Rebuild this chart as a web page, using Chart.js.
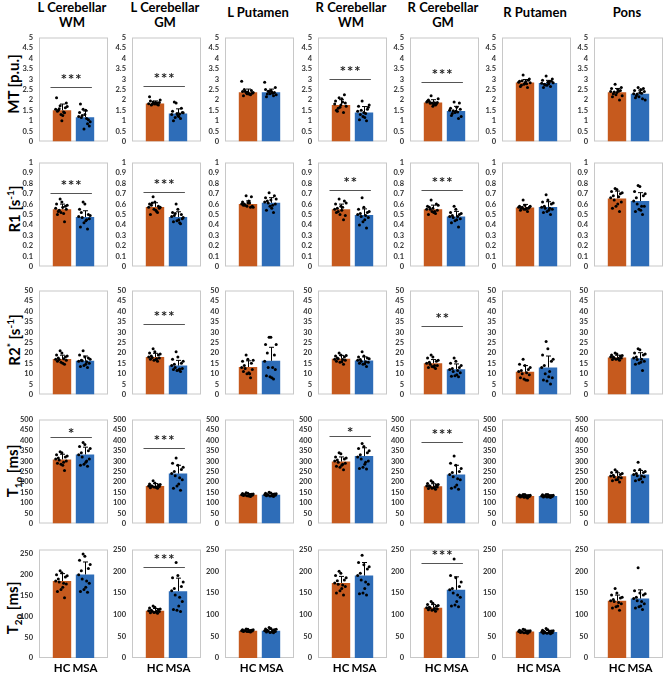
<!DOCTYPE html>
<html>
<head>
<meta charset="utf-8">
<script src="https://cdn.jsdelivr.net/npm/chart.js@4.4.1/dist/chart.umd.min.js"></script>
<style>
  body { margin: 0; background: #fff; width: 669px; height: 673px; position: relative; overflow: hidden; }
  canvas { position: absolute; }
  .title { position: absolute; text-align: center; font: bold 13px/15px Lato, sans-serif; color: #000; white-space: nowrap; transform: translateX(-50%); }
  .rowlab { position: absolute; font: bold 15px Lato, sans-serif; color: #000; white-space: nowrap; transform: translate(-50%, -50%) rotate(-90deg); }
  .rowlab sup, .rowlab sub { font-size: 10px; }
</style>
</head>
<body>
<script>
// regions (columns) and groups
const regions = ["L Cerebellar\nWM", "L Cerebellar\nGM", "L Putamen", "R Cerebellar\nWM", "R Cerebellar\nGM", "R Putamen", "Pons"];
const groups = ["HC", "MSA"];

// ---- MT [p.u.] ----
const mtHcMean = [1.50, 1.83, 2.37, 1.76, 1.88, 2.84, 2.37];
const mtMsaMean = [1.17, 1.35, 2.37, 1.40, 1.47, 2.81, 2.30];
const mtHcSd = [0.30, 0.12, 0.15, 0.25, 0.13, 0.14, 0.18];
const mtMsaSd = [0.30, 0.22, 0.15, 0.28, 0.22, 0.13, 0.17];
const mtHcPts = [
  [1.55,1.72,1.38,2.10,1.30,1.62,1.45,1.00,1.85,1.50,1.25,1.68,1.58,1.42],
  [1.82,1.90,1.78,2.15,1.85,1.76,1.95,1.80,1.88,1.75,1.84,2.00,1.79,1.86],
  [2.90,2.35,2.25,2.40,2.30,2.45,2.20,2.38,2.32,2.50,2.28,2.36,2.42,2.30],
  [1.80,2.10,1.40,1.95,1.65,2.25,1.50,1.75,1.85,1.45,2.05,1.70,1.60,1.90],
  [1.90,2.20,1.75,1.95,1.85,1.80,2.00,1.70,1.88,1.92,1.78,2.05,1.84,1.86],
  [2.85,3.20,2.60,2.90,2.75,2.95,2.65,2.80,3.00,2.70,2.88,2.82,2.92,2.78],
  [2.40,2.75,2.00,2.55,2.25,2.45,2.15,2.35,2.60,2.30,2.50,2.20,2.38,2.42]
];
const mtMsaPts = [
  [1.20,1.55,0.85,1.40,0.60,1.05,1.80,1.30,0.75,1.15,1.50,0.95,1.25,1.10],
  [1.30,1.85,1.10,1.45,1.35,1.60,1.00,1.25,1.40,1.90,1.20,1.38,1.15,1.32],
  [2.85,2.40,2.20,2.50,2.30,2.35,2.15,2.45,2.60,2.28,2.38,2.25,2.42,2.32],
  [1.45,1.95,1.00,1.70,1.20,1.55,1.05,1.40,1.65,1.30,1.15,1.75,1.50,1.35],
  [1.50,1.90,1.10,1.60,1.40,1.85,1.25,1.45,1.55,1.35,1.65,1.20,1.48,1.42],
  [2.80,3.15,2.65,2.95,2.70,2.90,2.60,2.85,3.00,2.75,2.78,2.82,2.72,2.88],
  [2.30,2.60,2.05,2.45,2.15,2.55,2.10,2.35,2.40,2.20,2.50,2.00,2.28,2.32]
];
const mtSig = ["***", "***", null, "***", "***", null, null];
const mtSigLevel = [2.6, 2.66, null, 3.0, 2.85, null, null];

// ---- R1 [s-1] ----
const r1HcMean = [0.55, 0.573, 0.60, 0.55, 0.55, 0.567, 0.655];
const r1MsaMean = [0.476, 0.476, 0.612, 0.494, 0.48, 0.573, 0.63];
const r1HcSd = [0.05, 0.04, 0.03, 0.05, 0.04, 0.03, 0.07];
const r1MsaSd = [0.06, 0.05, 0.05, 0.06, 0.05, 0.05, 0.08];
const r1HcPts = [
  [0.56,0.65,0.43,0.60,0.52,0.58,0.50,0.62,0.55,0.53,0.57,0.59,0.54,0.51],
  [0.57,0.67,0.52,0.60,0.55,0.58,0.50,0.62,0.56,0.59,0.54,0.57,0.61,0.53],
  [0.60,0.68,0.57,0.62,0.58,0.67,0.59,0.61,0.58,0.60,0.63,0.57,0.59,0.61],
  [0.55,0.65,0.45,0.60,0.50,0.63,0.52,0.58,0.49,0.56,0.54,0.61,0.53,0.57],
  [0.55,0.64,0.51,0.58,0.53,0.60,0.50,0.56,0.54,0.57,0.52,0.59,0.55,0.53],
  [0.57,0.64,0.53,0.58,0.55,0.56,0.54,0.59,0.57,0.56,0.55,0.58,0.57,0.56],
  [0.66,0.75,0.53,0.72,0.58,0.70,0.56,0.74,0.62,0.68,0.60,0.71,0.64,0.67]
];
const r1MsaPts = [
  [0.48,0.62,0.36,0.55,0.42,0.50,0.38,0.60,0.46,0.52,0.44,0.49,0.47,0.45],
  [0.48,0.60,0.41,0.52,0.44,0.50,0.43,0.55,0.46,0.49,0.45,0.47,0.51,0.42],
  [0.62,0.71,0.52,0.66,0.58,0.68,0.54,0.64,0.60,0.63,0.56,0.65,0.61,0.59],
  [0.50,0.66,0.37,0.55,0.43,0.52,0.40,0.57,0.47,0.51,0.45,0.53,0.48,0.49],
  [0.48,0.58,0.38,0.52,0.44,0.50,0.42,0.55,0.46,0.49,0.45,0.51,0.47,0.48],
  [0.57,0.69,0.50,0.62,0.53,0.60,0.52,0.64,0.55,0.58,0.54,0.61,0.56,0.56],
  [0.63,0.78,0.50,0.72,0.55,0.68,0.53,0.77,0.58,0.66,0.54,0.70,0.60,0.58]
];
const r1Sig = ["***", "***", null, "**", "***", null, null];
const r1SigLevel = [0.71, 0.72, null, 0.735, 0.74, null, null];

// ---- R2* [s-1] ----
const r2sHcMean = [17.1, 18.0, 13.2, 17.2, 15.0, 10.9, 17.8];
const r2sMsaMean = [16.2, 13.9, 16.2, 16.3, 12.1, 13.0, 17.4];
const r2sHcSd = [1.8, 1.8, 3.0, 1.6, 1.8, 3.0, 1.1];
const r2sMsaSd = [2.3, 2.5, 6.5, 1.8, 2.6, 5.5, 2.7];
const r2sHcPts = [
  [17,21,14.5,19,15.5,18,16,20,16.5,17.5,15,18.5,16.8,17.2],
  [18,22,16,20,16.5,19,17,20.5,17.5,18.5,16.8,19.5,17.8,17.2],
  [13,19,8,16,10,15,11,17,12,14,10.5,16.5,12.5,10],
  [17,20,14.5,18.5,15.5,18,16,19,16.5,17.5,15.8,18.8,17.2,16.8],
  [15,19,12.5,17.5,13.5,16,13,18,14,15.5,13.2,16.5,14.5,14],
  [11,17,6.8,14.5,7.5,12,8,14,9.5,11.5,7,13,10,10.5],
  [18,20,16.5,19,17,18.5,16.8,19.5,17.5,18,17.2,18.8,17.6,17.4]
];
const r2sMsaPts = [
  [16,21,13,19,14,17.5,13.5,18,15,16.5,14.5,17,16.2,15.8],
  [14,20.5,11,17,11.5,15,12,18,12.5,14.5,11.8,16,13,12.2],
  [16,27.5,7.5,24,8.5,19,9,27.5,12,20,8,24,13,13],
  [16.5,20.5,13.5,18,14.5,17.5,15,18.5,15.5,16.8,14.8,17.2,16,15.8],
  [12,17.5,8.5,15,9,13,8.8,16,10.5,12.5,9.5,14,11,11.5],
  [13,25.5,5,19,6.5,16,7,22,8,14,8.5,17,10,11],
  [17.5,22,11.5,20,15,19,14.5,21.5,16,18,15.5,19.5,16.8,17]
];
const r2sSig = [null, "***", null, null, "**", null, null];
const r2sSigLevel = [null, 34, null, null, 33, null, null];

// ---- T1rho [ms] ----
const t1pHcMean = [308, 180, 138.5, 298, 179, 132.5, 227];
const t1pMsaMean = [332, 240, 138.5, 324, 235, 132.5, 235];
const t1pHcSd = [25, 12, 5, 22, 12, 4, 17];
const t1pMsaSd = [35, 40, 6, 40, 45, 5, 20];
const t1pHcPts = [
  [310,345,255,330,285,320,290,340,300,315,280,325,305,295],
  [180,205,170,190,175,185,172,195,178,182,174,188,179,176],
  [138,148,130,144,133,141,135,146,136,139,132,142,137,138],
  [300,340,258,320,270,310,275,335,290,305,280,315,295,285],
  [180,205,165,192,170,185,168,198,175,182,172,188,178,176],
  [132,140,122,137,126,135,128,139,130,134,127,136,131,133],
  [228,258,200,245,210,235,205,250,220,232,212,240,225,222]
];
const t1pMsaPts = [
  [330,390,275,370,285,350,280,380,310,340,295,360,320,300],
  [240,315,160,290,180,260,170,280,210,250,190,270,230,220],
  [138,150,130,145,132,142,134,147,136,140,133,143,137,139],
  [320,385,262,360,270,340,265,370,300,330,285,350,310,295],
  [235,325,165,290,175,250,170,280,210,245,185,265,225,215],
  [132,140,125,138,127,135,128,139,130,134,129,136,131,133],
  [235,295,200,255,210,245,205,260,225,240,215,250,230,228]
];
const t1pSig = ["*", "***", null, "*", "***", null, null];
const t1pSigLevel = [417, 365, null, 420, 390, null, null];

// ---- T2rho [ms] ----
const t2pHcMean = [185, 109, 63, 173, 116, 61, 132];
const t2pMsaMean = [201, 154, 63, 190, 157, 60, 137];
const t2pHcSd = [18, 5, 2, 15, 7, 3, 13];
const t2pMsaSd = [30, 30, 3, 30, 30, 3.5, 20];
const t2pHcPts = [
  [185,210,145,200,165,195,160,205,178,190,170,198,183,180],
  [109,120,103,115,105,112,104,117,107,110,106,113,108,108],
  [63,67,60,65,61,64,61,66,62,63,61,65,63,62],
  [173,200,145,190,155,180,150,195,165,178,160,185,170,168],
  [116,130,108,123,110,119,111,126,113,117,112,121,115,114],
  [61,66,57,64,58,62,59,65,60,61,59,63,60,61],
  [132,160,110,145,118,138,115,150,125,135,120,140,130,128]
];
const t2pMsaPts = [
  [200,250,158,235,165,215,160,245,180,210,170,225,190,185],
  [155,220,107,185,110,165,112,190,130,160,120,175,145,140],
  [63,70,58,67,59,65,60,68,61,64,60,66,62,62],
  [190,237,145,220,150,205,148,215,170,195,160,210,180,175],
  [157,228,118,190,122,165,120,185,140,160,130,175,150,145],
  [60,68,56,64,57,62,57,65,58,61,58,63,59,60],
  [137,208,112,155,118,145,115,150,125,140,120,148,132,130]
];
const t2pSig = [null, "***", null, null, "***", null, null];
const t2pSigLevel = [null, 209, null, null, 218, null, null];

// axis limits per metric row
const yMax = [5, 1, 50, 500, 250];
const yStep = [0.5, 0.1, 5, 50, 50];
const t2pFirstMax = 261;

const metrics = [
  { label: "MT [p.u.]", hcMean: mtHcMean, msaMean: mtMsaMean, hcSd: mtHcSd, msaSd: mtMsaSd, hcPts: mtHcPts, msaPts: mtMsaPts, sig: mtSig, sigLevel: mtSigLevel },
  { label: "R1 [s<sup>-1</sup>]", hcMean: r1HcMean, msaMean: r1MsaMean, hcSd: r1HcSd, msaSd: r1MsaSd, hcPts: r1HcPts, msaPts: r1MsaPts, sig: r1Sig, sigLevel: r1SigLevel },
  { label: "R2<sup>*</sup> [s<sup>-1</sup>]", hcMean: r2sHcMean, msaMean: r2sMsaMean, hcSd: r2sHcSd, msaSd: r2sMsaSd, hcPts: r2sHcPts, msaPts: r2sMsaPts, sig: r2sSig, sigLevel: r2sSigLevel },
  { label: "T<sub>1ρ</sub> [ms]", hcMean: t1pHcMean, msaMean: t1pMsaMean, hcSd: t1pHcSd, msaSd: t1pMsaSd, hcPts: t1pHcPts, msaPts: t1pMsaPts, sig: t1pSig, sigLevel: t1pSigLevel },
  { label: "T<sub>2ρ</sub> [ms]", hcMean: t2pHcMean, msaMean: t2pMsaMean, hcSd: t2pHcSd, msaSd: t2pMsaSd, hcPts: t2pHcPts, msaPts: t2pMsaPts, sig: t2pSig, sigLevel: t2pSigLevel }
];

// layout
const colLeft = [39, 132, 225, 318, 410, 502, 594];
const colW = 70;
const rowTop = [33, 158, 286, 415, 545];
const rowH = 113;
const rowLabelY = [84, 209, 340, 471, 608];
const ORANGE = "#C65A1E";
const BLUE = "#2E6DB8";
const tickFont = { family: "Lato", weight: "bold", size: 7.5 };

// titles
regions.forEach((name, c) => {
  const d = document.createElement("div");
  d.className = "title";
  const two = name.includes("\n");
  d.innerHTML = name.replace("\n", "<br>");
  d.style.left = (colLeft[c] + colW / 2 - 2) + "px";
  d.style.top = (two ? 0 : 5) + "px";
  document.body.appendChild(d);
});

// row labels
metrics.forEach((m, r) => {
  const d = document.createElement("div");
  d.className = "rowlab";
  d.innerHTML = m.label;
  d.style.left = "13px";
  d.style.top = rowLabelY[r] + "px";
  document.body.appendChild(d);
});

function jitter(pts, center) {
  const n = pts.length;
  return pts.map((v, i) => ({ x: center + (((i * 5) % n) / (n - 1) - 0.55) * 0.5, y: v }));
}

function decoPlugin(m, c) {
  return {
    id: "deco",
    beforeDatasetsDraw(chart) {
      const a = chart.chartArea, ctx = chart.ctx;
      ctx.save();
      ctx.strokeStyle = "#c8c8c8";
      ctx.lineWidth = 1;
      ctx.strokeRect(a.left + 0.5, a.top + 0.5, a.right - a.left - 1, a.bottom - a.top - 1);
      ctx.restore();
    },
    afterDatasetDraw(chart, args) {
      if (args.index !== 0) return;
      const xs = chart.scales.x, ys = chart.scales.y, ctx = chart.ctx;
      const means = [m.hcMean[c], m.msaMean[c]];
      const sds = [m.hcSd[c], m.msaSd[c]];
      ctx.save();
      ctx.strokeStyle = "#000";
      ctx.lineWidth = 1;
      means.forEach((mu, g) => {
        const x = Math.round(xs.getPixelForValue(g + 1)) + 0.5;
        const y0 = ys.getPixelForValue(mu);
        const y1 = ys.getPixelForValue(mu + sds[g]);
        ctx.beginPath();
        ctx.moveTo(x, y0); ctx.lineTo(x, y1);
        ctx.moveTo(x - 2.5, y1); ctx.lineTo(x + 2.5, y1);
        ctx.stroke();
      });
      ctx.restore();
    },
    afterDatasetsDraw(chart) {
      const s = m.sig[c];
      if (!s) return;
      const xs = chart.scales.x, ys = chart.scales.y, ctx = chart.ctx;
      const y = Math.round(ys.getPixelForValue(m.sigLevel[c])) + 0.5;
      ctx.save();
      ctx.strokeStyle = "#555";
      ctx.lineWidth = 1.2;
      ctx.beginPath();
      ctx.moveTo(xs.getPixelForValue(0.5), y);
      ctx.lineTo(xs.getPixelForValue(2.3), y);
      ctx.stroke();
      ctx.fillStyle = "#222";
      ctx.font = "bold 10px 'DejaVu Sans'";
      ctx.letterSpacing = "2px";
      ctx.textAlign = "center";
      ctx.textBaseline = "middle";
      ctx.fillText(s, xs.getPixelForValue(1.4) + 1, y - (s.length > 1 ? 8 : 4));
      ctx.restore();
    }
  };
}

metrics.forEach((m, r) => {
  const last = r === metrics.length - 1;
  regions.forEach((name, c) => {
    const cv = document.createElement("canvas");
    const w = 30 + colW + 3;
    const h = 6 + rowH + (last ? 22 : 6);
    cv.width = w; cv.height = h;
    cv.style.left = (colLeft[c] - 30) + "px";
    cv.style.top = (rowTop[r] - 6) + "px";
    cv.style.width = w + "px"; cv.style.height = h + "px";
    document.body.appendChild(cv);

    const max = (last && c === 0) ? t2pFirstMax : yMax[r];
    new Chart(cv, {
      type: "bar",
      data: {
        datasets: [
          {
            type: "bar",
            data: [{ x: 1, y: m.hcMean[c] }, { x: 2, y: m.msaMean[c] }],
            backgroundColor: [ORANGE, BLUE],
            barPercentage: 0.8,
            categoryPercentage: 1,
            order: 2
          },
          {
            type: "scatter",
            data: jitter(m.hcPts[c], 1).concat(jitter(m.msaPts[c], 2)),
            pointRadius: 1.5,
            pointBackgroundColor: "#000",
            pointBorderWidth: 0,
            order: 1
          }
        ]
      },
      options: {
        responsive: false,
        animation: false,
        events: [],
        layout: { padding: { top: 6, right: 3, bottom: last ? 0 : 6, left: 0 } },
        plugins: { legend: { display: false }, tooltip: { enabled: false } },
        scales: {
          x: {
            type: "linear", min: 0, max: 3, offset: false,
            afterBuildTicks: s => { s.ticks = [{ value: 1 }, { value: 2 }]; },
            afterFit: s => { s.height = last ? 22 : 0; },
            grid: { display: false, offset: false, drawTicks: false },
            border: { display: false },
            ticks: {
              display: last, autoSkip: false, maxRotation: 0, minRotation: 0, padding: 3,
              color: "#000", font: { family: "Lato", weight: "bold", size: 11.5 },
              callback: v => groups[v - 1]
            }
          },
          y: {
            min: 0, max: max,
            afterFit: s => { s.width = 30; },
            grid: { display: false, drawTicks: false },
            border: { display: false },
            ticks: {
              stepSize: yStep[r], autoSkip: false, includeBounds: false, padding: 6, color: "#333", font: tickFont,
              callback: v => String(+v.toFixed(2))
            }
          }
        }
      },
      plugins: [decoPlugin(m, c)]
    });
  });
});
</script>
</body>
</html>
